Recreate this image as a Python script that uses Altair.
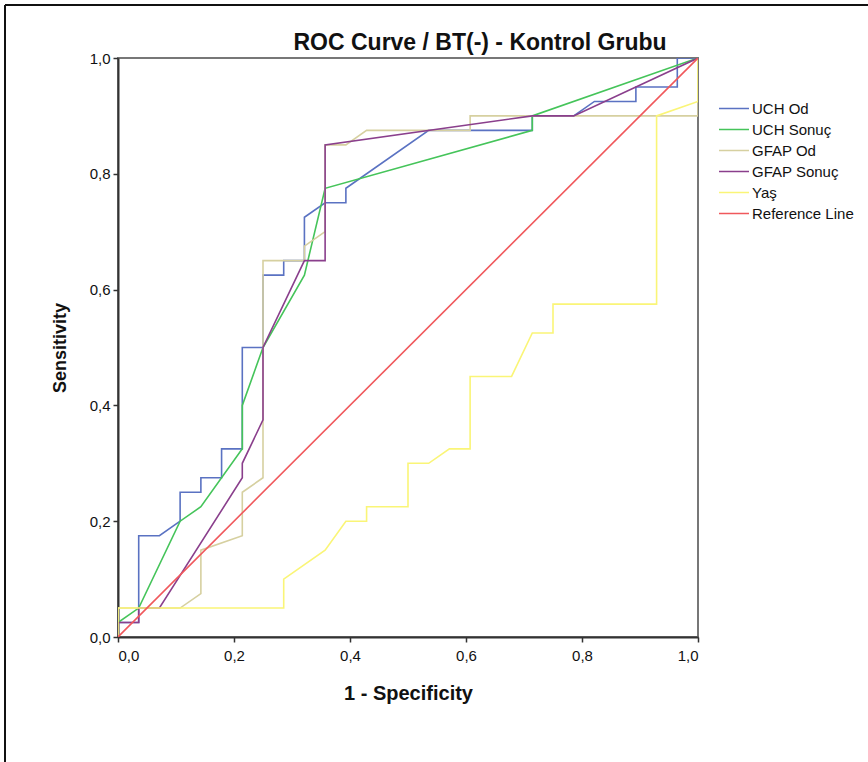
import altair as alt
import pandas as pd

# ROC curve points (1 - specificity, sensitivity) per test variable
uch_od_x = [0, 0, 0.0357, 0.0357, 0.0714, 0.1071, 0.1071, 0.1429, 0.1429, 0.1786, 0.1786, 0.2143, 0.2143,
            0.25, 0.25, 0.2857, 0.2857, 0.3214, 0.3214, 0.3571, 0.3929, 0.3929, 0.5357, 0.7143, 0.7143,
            0.7857, 0.8214, 0.8929, 0.8929, 0.9643, 0.9643, 1]
uch_od_y = [0, 0.025, 0.025, 0.175, 0.175, 0.2, 0.25, 0.25, 0.275, 0.275, 0.325, 0.325, 0.5,
            0.5, 0.625, 0.625, 0.65, 0.65, 0.725, 0.75, 0.75, 0.775, 0.875, 0.875, 0.9,
            0.9, 0.925, 0.925, 0.95, 0.95, 1, 1]

uch_sonuc_x = [0, 0, 0.0357, 0.1071, 0.1429, 0.2143, 0.2143, 0.25, 0.3214, 0.3571, 0.7143, 0.7143, 1]
uch_sonuc_y = [0, 0.025, 0.05, 0.2, 0.225, 0.325, 0.4, 0.5, 0.625, 0.775, 0.875, 0.9, 1]

gfap_od_x = [0, 0, 0.1071, 0.1429, 0.1429, 0.2143, 0.2143, 0.25, 0.25, 0.3214, 0.3214, 0.3571, 0.3571,
             0.3929, 0.4286, 0.6071, 0.6071, 1, 1]
gfap_od_y = [0, 0.05, 0.05, 0.075, 0.15, 0.175, 0.25, 0.275, 0.65, 0.65, 0.675, 0.7, 0.85,
             0.85, 0.875, 0.875, 0.9, 0.9, 1]

gfap_sonuc_x = [0, 0, 0.0357, 0.0357, 0.0714, 0.2143, 0.2143, 0.25, 0.25, 0.3214, 0.3571, 0.3571,
                0.7143, 0.7857, 1]
gfap_sonuc_y = [0, 0.025, 0.025, 0.05, 0.05, 0.275, 0.3, 0.375, 0.5, 0.65, 0.65, 0.85,
                0.9, 0.9, 1]

yas_x = [0, 0, 0.2857, 0.2857, 0.3571, 0.3929, 0.4286, 0.4286, 0.5, 0.5, 0.5357, 0.5714, 0.6071,
         0.6071, 0.6786, 0.7143, 0.75, 0.75, 0.9286, 0.9286, 1, 1]
yas_y = [0, 0.05, 0.05, 0.1, 0.15, 0.2, 0.2, 0.225, 0.225, 0.3, 0.3, 0.325, 0.325,
         0.45, 0.45, 0.525, 0.525, 0.575, 0.575, 0.9, 0.925, 1]

ref_x = [0, 1]
ref_y = [0, 1]

series_names = ["UCH Od", "UCH Sonuç", "GFAP Od", "GFAP Sonuç", "Yaş", "Reference Line"]
series_colors = ["#5a72c2", "#45c45a", "#d6d0a0", "#8a3f8c", "#faf577", "#f0585c"]
axis_ticks = [0, 0.2, 0.4, 0.6, 0.8, 1.0]
chart_title = "ROC Curve / BT(-) - Kontrol Grubu"

rows = []
for name, xs, ys in zip(series_names,
                        [uch_od_x, uch_sonuc_x, gfap_od_x, gfap_sonuc_x, yas_x, ref_x],
                        [uch_od_y, uch_sonuc_y, gfap_od_y, gfap_sonuc_y, yas_y, ref_y]):
    for i, (x, y) in enumerate(zip(xs, ys)):
        rows.append({"series": name, "fpr": x, "tpr": y, "ord": i})
df = pd.DataFrame(rows)

label_expr = "replace(format(datum.value, '.1f'), '.', ',')"

lines = alt.Chart(df).mark_line(strokeWidth=1.6, clip=True).encode(
    x=alt.X("fpr:Q", scale=alt.Scale(domain=[0, 1], nice=False),
            axis=alt.Axis(values=axis_ticks, labelExpr=label_expr, title="1 - Specificity",
                          titlePadding=20, titleFontSize=20, labelPadding=6)),
    y=alt.Y("tpr:Q", scale=alt.Scale(domain=[0, 1], nice=False),
            axis=alt.Axis(values=axis_ticks, labelExpr=label_expr, title="Sensitivity",
                          titlePadding=20, titleFontSize=18, labelPadding=3)),
    color=alt.Color("series:N", scale=alt.Scale(domain=series_names, range=series_colors),
                    legend=alt.Legend(title=None, orient="none", legendX=600, legendY=40,
                                      symbolType="stroke", symbolSize=900, symbolStrokeWidth=1.6,
                                      labelFontSize=15, labelFont="Liberation Sans", labelColor="#111",
                                      clipHeight=21, rowPadding=0, padding=0, labelOffset=2)),
    order="ord:Q",
)

title_text = alt.Chart(pd.DataFrame({"t": [chart_title]})).mark_text(
    font="Liberation Sans", fontSize=23, fontWeight="bold", color="#111", align="center",
    baseline="alphabetic").encode(text="t:N", x=alt.value(362), y=alt.value(-8))

frame_left = alt.Chart(df).mark_rule(color="#111", strokeWidth=2).encode(
    x=alt.value(-113), y=alt.value(-53), y2=alt.value(900))
frame_top = alt.Chart(df).mark_rule(color="#111", strokeWidth=2).encode(
    y=alt.value(-53), x=alt.value(-113), x2=alt.value(1000))

chart = alt.layer(frame_left, frame_top, lines, title_text).properties(
    width=580, height=579,
    padding={"left": 118, "top": 58, "right": 170, "bottom": 125},
    autosize=alt.AutoSizeParams(type="none"),
    background="white",
).configure_view(stroke="#777", strokeWidth=2).configure_axis(
    grid=False, domainColor="#333", domainWidth=2, tickColor="#333", tickWidth=1.5, tickSize=5,
    labelFont="Liberation Sans", labelFontSize=15, labelColor="#111",
    titleFont="Liberation Sans", titleFontWeight="bold", titleColor="#111",
)

chart.save("out.html", embed_options={"renderer": "svg", "actions": False})
